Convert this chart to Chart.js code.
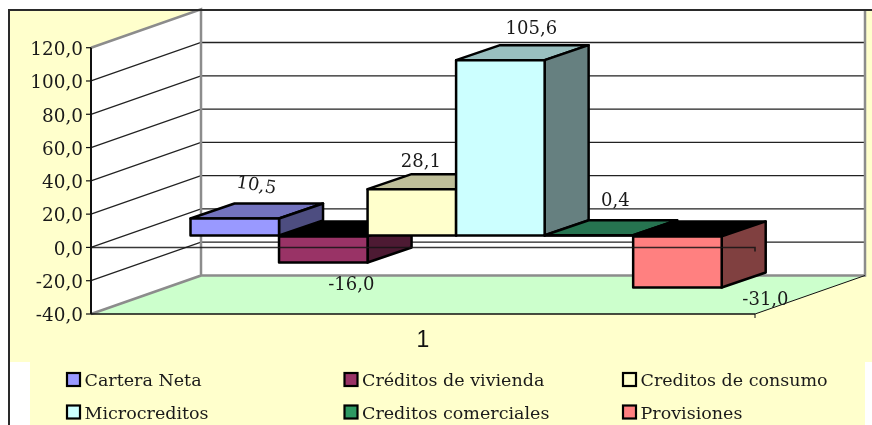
<!DOCTYPE html>
<html>
<head>
<meta charset="utf-8">
<style>html,body{margin:0;padding:0;background:#fff}canvas{display:block}</style>
<script src="https://cdn.jsdelivr.net/npm/chart.js@4"></script>
</head>
<body>
<div style="width:872px;height:425px"><canvas id="c" width="872" height="425"></canvas></div>
<script>
const categories = ['1'];
const seriesNames = ['Cartera Neta','Créditos de vivienda','Creditos de consumo','Microcreditos','Creditos comerciales','Provisiones'];
const carteraNeta = [10.5];
const creditosVivienda = [-16.0];
const creditosConsumo = [28.1];
const microcreditos = [105.6];
const creditosComerciales = [0.4];
const provisiones = [-31.0];
const seriesValues = [carteraNeta,creditosVivienda,creditosConsumo,microcreditos,creditosComerciales,provisiones];
const frontColors = ['#9999FF','#993366','#FFFFCC','#CCFFFF','#2E9962','#FF8080'];
const topColors   = ['#7373BF','#000000','#BFBF99','#99BFBF','#267350','#000000'];
const sideColors  = ['#4D4D80','#4D1A33','#808066','#668080','#174D33','#804040'];
const labelNudge = [[21.5,-32.5],[28,22.5],[9,-26.5],[31,-31],[26.5,-34],[88,12.5]];
const labelAngle = [0.17,0,0,0,0,0];
const serif = '"DejaVu Serif"';
const fmt = v => v.toFixed(1).replace('.',',');

const WALL = {dx:110, dy:-38.5};
const PLANE = {dx:33.1, dy:-11.5};
const BAR = {dx:44, dy:-15};

const scenePlugin = {
  id:'scene',
  beforeDraw(chart){
    const {ctx,chartArea:a,scales:{y}} = chart;
    const w = WALL;
    ctx.save();
    ctx.fillStyle='#fff'; ctx.fillRect(0,0,872,425);
    ctx.fillStyle='#FFFFCC'; ctx.fillRect(9,10,863,352);
    ctx.fillRect(30,362,835,63);
    const top=y.getPixelForValue(120), bot=y.getPixelForValue(-40);
    ctx.fillStyle='#fff';
    ctx.beginPath();ctx.moveTo(a.left,top);ctx.lineTo(a.left+w.dx,top+w.dy);ctx.lineTo(a.left+w.dx,bot+w.dy);ctx.lineTo(a.left,bot);ctx.closePath();ctx.fill();
    ctx.fillRect(a.left+w.dx,top+w.dy,a.right-a.left,bot-top);
    ctx.fillStyle='#CCFFCC';
    ctx.beginPath();ctx.moveTo(a.left,bot);ctx.lineTo(a.left+w.dx,bot+w.dy);ctx.lineTo(a.right+w.dx,bot+w.dy);ctx.lineTo(a.right,bot);ctx.closePath();ctx.fill();
    ctx.strokeStyle='#222';ctx.lineWidth=1.3;
    y.ticks.forEach(t=>{
      if(t.value===120||t.value===-40) return;
      const p=y.getPixelForValue(t.value);
      ctx.beginPath();ctx.moveTo(a.left,p);ctx.lineTo(a.left+w.dx,p+w.dy);ctx.lineTo(a.right+w.dx,p+w.dy);ctx.stroke();
    });
    ctx.strokeStyle='#8C8C8C';ctx.lineWidth=2.5;
    ctx.beginPath();ctx.moveTo(a.left,top);ctx.lineTo(a.left+w.dx,top+w.dy);ctx.lineTo(a.left+w.dx,bot+w.dy);ctx.lineTo(a.left,bot);
    ctx.moveTo(a.left+w.dx,bot+w.dy);ctx.lineTo(a.right+w.dx,bot+w.dy);ctx.lineTo(a.right+w.dx,top+w.dy);ctx.stroke();
    ctx.strokeStyle='#111';ctx.lineWidth=1;
    ctx.beginPath();ctx.moveTo(a.right,bot);ctx.lineTo(a.right+w.dx,bot+w.dy);ctx.stroke();
    ctx.beginPath();ctx.moveTo(a.right,bot);ctx.lineTo(a.right,bot+4);ctx.stroke();
    ctx.strokeStyle='#2a2a2a';ctx.lineWidth=2;
    ctx.beginPath();ctx.moveTo(9,425);ctx.lineTo(9,10);ctx.lineTo(872,10);ctx.stroke();
    ctx.restore();
  },
  beforeDatasetsDraw(chart){
    const {ctx}=chart;
    seriesValues.forEach((vals,i)=>{
      const meta=chart.getDatasetMeta(i);
      meta.data.forEach(el=>{
        const l=el.x-el.width/2+PLANE.dx, r=el.x+el.width/2+PLANE.dx;
        const t=Math.min(el.y,el.base)+PLANE.dy, b=Math.max(el.y,el.base)+PLANE.dy;
        ctx.save();
        ctx.strokeStyle='#000';ctx.lineWidth=2.5;ctx.lineJoin='round';
        ctx.fillStyle=topColors[i];
        ctx.beginPath();ctx.moveTo(l,t);ctx.lineTo(l+BAR.dx,t+BAR.dy);ctx.lineTo(r+BAR.dx,t+BAR.dy);ctx.lineTo(r,t);ctx.closePath();ctx.fill();ctx.stroke();
        ctx.fillStyle=sideColors[i];
        ctx.beginPath();ctx.moveTo(r,t);ctx.lineTo(r+BAR.dx,t+BAR.dy);ctx.lineTo(r+BAR.dx,b+BAR.dy);ctx.lineTo(r,b);ctx.closePath();ctx.fill();ctx.stroke();
        ctx.restore();
      });
      ctx.save();
      ctx.translate(PLANE.dx,PLANE.dy);
      meta.controller.draw();
      ctx.restore();
      meta.data.forEach(el=>{
        const l=el.x-el.width/2+PLANE.dx;
        const t=Math.min(el.y,el.base)+PLANE.dy, b=Math.max(el.y,el.base)+PLANE.dy;
        ctx.save();
        ctx.strokeStyle='#000';ctx.lineWidth=2.5;ctx.lineJoin='round';
        ctx.strokeRect(l,t,el.width,b-t);
        ctx.restore();
      });
    });
  },
  beforeDatasetDraw(){ return false; },
  afterDatasetsDraw(chart){
    const {ctx,chartArea:a,scales:{y}}=chart;
    const z=y.getPixelForValue(0);
    ctx.save();
    ctx.strokeStyle='#111';ctx.lineWidth=2;
    ctx.beginPath();ctx.moveTo(a.left,y.getPixelForValue(120));ctx.lineTo(a.left,y.getPixelForValue(-40));ctx.stroke();
    ctx.lineWidth=1.6;
    ctx.beginPath();ctx.moveTo(a.left,y.getPixelForValue(-40));ctx.lineTo(a.right,y.getPixelForValue(-40));ctx.stroke();
    ctx.lineWidth=1.2;
    y.ticks.forEach(t=>{const p=y.getPixelForValue(t.value);ctx.beginPath();ctx.moveTo(a.left-5,p);ctx.lineTo(a.left,p);ctx.stroke();});
    ctx.strokeStyle='rgba(20,20,20,0.85)';ctx.lineWidth=1.6;
    ctx.beginPath();ctx.moveTo(a.left,z);ctx.lineTo(a.right,z);ctx.lineTo(a.right,z+4);ctx.stroke();
    ctx.fillStyle='#1a1a1a';ctx.font='18px '+serif;ctx.textAlign='center';ctx.textBaseline='middle';
    seriesValues.forEach((vals,i)=>{
      chart.getDatasetMeta(i).data.forEach((el,k)=>{
        const edge=vals[k]<0?Math.max(el.y,el.base):Math.min(el.y,el.base);
        const x=el.x+PLANE.dx+labelNudge[i][0], yy=edge+PLANE.dy+labelNudge[i][1];
        ctx.save();ctx.translate(x,yy);ctx.rotate(labelAngle[i]);ctx.fillText(fmt(vals[k]),0,0);ctx.restore();
      });
    });
    const cols=[67,344.5,623], rows=[380,412.5];
    ctx.font='17.5px '+serif;ctx.textAlign='left';
    seriesNames.forEach((name,i)=>{
      const c=cols[i%3], ry=rows[Math.floor(i/3)];
      ctx.fillStyle=frontColors[i];ctx.strokeStyle='#000';ctx.lineWidth=2.2;
      ctx.fillRect(c,ry-7,13,13);ctx.strokeRect(c,ry-7,13,13);
      ctx.fillStyle='#1a1a1a';ctx.fillText(name,c+17.5,ry+1.5);
    });
    ctx.restore();
  }
};

new Chart(document.getElementById('c'),{
  type:'bar',
  data:{
    labels:categories,
    datasets:seriesNames.map((name,i)=>({
      label:name,data:seriesValues[i],backgroundColor:frontColors[i],
      borderWidth:0,categoryPercentage:0.8,barPercentage:1
    }))
  },
  options:{
    responsive:false,animation:false,
    layout:{padding:{left:0,top:47.7,right:117,bottom:0}},
    plugins:{legend:{display:false},tooltip:{enabled:false},title:{display:false}},
    scales:{
      y:{
        min:-40,max:120,
        afterFit(s){s.width=91;},
        ticks:{stepSize:20,color:'#1a1a1a',padding:8,labelOffset:2.5,font:{family:serif,size:18.4},callback:v=>fmt(v)},
        grid:{drawOnChartArea:false,drawTicks:false},
        border:{display:false}
      },
      x:{
        afterFit(s){s.height=111;},
        ticks:{color:'#111',padding:4.5,font:{family:'"Liberation Sans"',size:23}},
        grid:{display:false},
        border:{display:false}
      }
    }
  },
  plugins:[scenePlugin]
});
</script>
</body>
</html>
